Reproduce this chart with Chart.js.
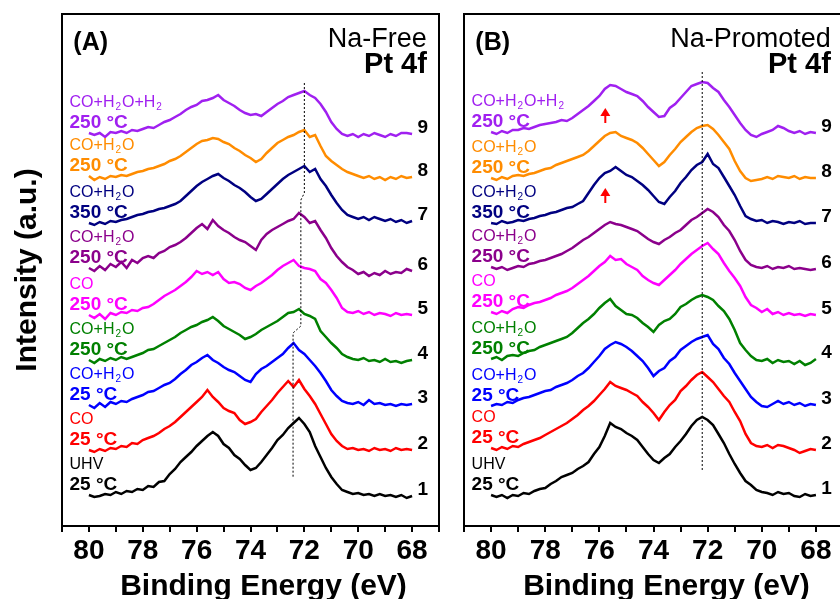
<!DOCTYPE html>
<html><head><meta charset="utf-8">
<script src="https://cdn.jsdelivr.net/npm/chart.js@4.4.0/dist/chart.umd.min.js"></script>
<style>
html,body{margin:0;padding:0;width:840px;height:599px;overflow:hidden;background:#fff;}
#wa{position:absolute;left:0;top:0;width:446px;height:599px;}
#wb{position:absolute;left:440px;top:0;width:410px;height:599px;}
</style></head><body>
<div id="wa"><canvas id="ca"></canvas></div>
<div id="wb"><canvas id="cb"></canvas></div>
<script>
// Binding energy grid (eV)
const energies = [80.0,79.8,79.6,79.4,79.2,79.0,78.8,78.6,78.4,78.2,78.0,77.8,77.6,77.4,77.2,77.0,76.8,76.6,76.4,76.2,76.0,75.8,75.6,75.4,75.2,75.0,74.8,74.6,74.4,74.2,74.0,73.8,73.6,73.4,73.2,73.0,72.8,72.6,72.4,72.2,72.0,71.8,71.6,71.4,71.2,71.0,70.8,70.6,70.4,70.2,70.0,69.8,69.6,69.4,69.2,69.0,68.8,68.6,68.4,68.2,68.0];

// Panel A: Na-Free, stacked intensities (a.u.)
const free1 = [31,29,30,32,31,34,32,35,34,37,36,40,39,44,45,52,57,64,69,74,80,85,90,94,90,82,78,71,67,61,56,58,64,71,78,86,91,98,103,108,102,94,80,69,58,49,42,36,34,32,33,31,32,30,32,30,31,29,31,28,30];
const free2 = [76,74,77,75,78,77,80,79,83,82,86,88,90,93,97,100,104,109,114,119,124,129,136,129,124,118,115,113,106,102,104,107,114,120,126,133,139,145,139,146,137,130,122,112,102,92,85,80,77,78,76,77,75,78,76,77,75,78,76,77,76];
const free3 = [121,118,123,119,124,122,125,124,127,129,131,134,135,138,141,143,147,152,156,161,164,168,171,166,163,159,156,154,150,146,144,152,157,160,164,168,172,178,183,176,172,166,160,153,145,136,130,125,123,122,124,121,126,122,123,121,122,120,122,121,122];
const free4 = [166,163,167,165,168,166,169,167,169,171,173,176,177,180,183,186,189,193,196,199,201,204,206,209,205,200,197,194,191,187,189,192,196,199,202,205,209,213,214,217,212,210,207,195,189,183,178,172,169,167,166,168,165,166,164,167,164,165,163,165,166];
const free5 = [211,208,212,207,213,211,214,213,216,215,218,219,222,226,230,233,236,240,244,249,255,252,254,251,254,247,243,244,242,238,236,240,243,247,251,256,260,263,266,260,258,257,255,247,243,236,228,218,214,213,215,212,214,211,213,212,210,213,211,212,211];
const free6 = [258,255,260,256,262,259,264,258,266,263,268,270,268,273,275,279,281,284,288,293,298,302,297,306,300,296,293,289,286,284,280,276,286,292,296,299,302,305,307,313,309,303,305,296,288,278,270,264,259,256,252,254,250,253,251,255,252,254,253,257,255];
const free7 = [303,301,304,302,305,304,306,307,309,311,312,314,315,317,318,320,322,325,330,335,340,344,347,350,352,348,345,341,338,334,329,325,327,332,337,342,347,351,354,357,360,354,357,347,340,331,323,316,311,309,307,309,306,309,307,305,307,304,306,303,305];
const free8 = [350,346,349,347,350,349,351,350,352,354,355,357,358,360,362,365,367,370,374,378,382,385,386,388,387,384,382,378,375,371,368,364,367,373,378,383,386,389,391,394,396,389,391,380,370,365,361,357,354,352,350,348,350,347,349,346,349,347,350,348,349];
const free9 = [393,391,393,389,394,393,395,393,396,395,397,399,398,401,404,406,409,412,416,419,421,425,426,428,431,426,423,420,416,413,411,412,410,414,418,422,425,429,431,433,435,431,428,422,414,404,397,392,390,392,389,392,390,393,391,389,392,390,393,393,392];

// Panel B: Na-Promoted
const prom1 = [31,29,31,28,31,30,33,32,35,37,38,42,45,49,51,53,57,60,64,72,79,90,103,99,97,93,90,86,79,72,66,63,68,72,79,85,92,100,106,109,106,101,92,83,72,62,53,45,41,36,34,33,31,34,32,33,30,29,32,30,31];
const prom2 = [78,76,79,77,80,79,82,84,86,88,91,94,97,100,103,107,111,116,120,125,131,137,144,140,138,136,133,130,124,119,113,106,114,121,126,135,140,146,151,154,149,144,137,130,124,114,105,92,83,80,79,81,78,81,80,78,76,73,75,77,76];
const prom3 = [120,122,121,124,123,126,128,129,131,133,135,136,139,141,143,146,150,153,158,164,170,177,181,184,182,179,175,170,165,158,150,155,158,165,169,176,180,184,187,189,191,182,177,168,162,153,145,137,129,124,120,119,122,125,122,124,121,123,120,122,121];
const prom4 = [167,169,166,170,171,170,173,175,176,179,181,183,185,187,189,193,198,203,207,212,218,223,227,220,216,212,211,208,203,199,194,201,205,207,212,219,222,226,229,231,229,226,220,215,207,196,183,176,170,166,165,167,163,166,164,165,162,165,161,163,167];
const prom5 = [214,212,215,213,217,219,218,221,223,224,226,228,231,233,235,238,242,246,250,255,260,264,270,266,267,262,259,256,250,246,243,241,246,251,256,262,267,272,276,280,283,277,272,263,255,248,240,229,221,218,214,217,212,214,211,213,211,212,210,212,211];
const prom6 = [259,257,259,256,258,260,259,262,263,265,266,268,270,272,275,278,282,286,289,293,297,301,304,302,301,299,297,295,291,287,284,282,286,289,293,296,301,306,309,313,317,314,309,301,295,286,275,266,261,259,258,260,257,259,258,260,257,258,257,256,257];
const prom7 = [303,302,305,303,304,306,305,307,308,310,311,313,314,316,318,319,322,325,333,341,348,353,355,359,355,351,349,345,341,336,330,324,322,329,335,343,349,356,361,364,372,362,358,349,340,331,320,310,307,305,306,303,305,304,302,304,303,305,302,303,303];
const prom8 = [348,346,349,347,350,351,350,352,353,355,357,358,361,363,365,367,369,371,375,380,385,390,393,394,390,388,386,383,378,372,366,360,364,371,377,384,389,394,398,400,401,397,391,384,377,365,355,348,345,346,347,349,347,350,349,348,350,347,349,348,348];
const prom9 = [394,392,395,393,396,396,398,397,399,401,402,403,404,406,405,408,412,416,420,425,430,437,441,440,437,434,432,430,425,419,414,409,410,418,422,428,434,440,442,444,443,438,434,426,419,411,403,396,391,389,392,394,396,400,398,395,393,395,392,394,393];

// Labels
const curveNumbers = ['1','2','3','4','5','6','7','8','9'];
const gasLabels = ['UHV','CO','CO+H_2O','CO+H_2O','CO','CO+H_2O','CO+H_2O','CO+H_2O','CO+H_2O+H_2'];
const tempLabels = ['25 °C','25 °C','25 °C','250 °C','250 °C','250 °C','350 °C','250 °C','250 °C'];
const curveColors = ['#000000','#ff0000','#0000ff','#008000','#ff00ff','#8b008b','#000080','#ff8c00','#a020f0'];
const xTickValues = [80,78,76,74,72,70,68];

// Guide lines (peak positions)
const guideAE = [72.0,72.0,72.13,72.13,72.42,72.42];
const guideAV = [443,333,326,200,193,48];
const guideBE = [72.2,72.2];
const guideBV = [454,54];
// Red arrows in panel B (energy, tail, tip)
const arrowE = [75.78,75.78];
const arrowTail = [403,323];
const arrowTip = [418,338];

const freeSeries = [free1,free2,free3,free4,free5,free6,free7,free8,free9];
const promSeries = [prom1,prom2,prom3,prom4,prom5,prom6,prom7,prom8,prom9];

Chart.defaults.font.family = '"Liberation Sans", Arial, sans-serif';
Chart.defaults.color = '#000';

function drawChem(ctx, text, x, y) {
  const parts = text.split(/(_\d)/);
  let cx = x;
  for (const p of parts) {
    if (!p) continue;
    if (p[0] === '_') {
      ctx.font = '10px "Liberation Sans"';
      ctx.fillText(p.slice(1), cx + 1, y + 3);
      cx += ctx.measureText(p.slice(1)).width + 2;
    } else {
      ctx.font = '16px "Liberation Sans"';
      ctx.fillText(p, cx, y);
      cx += ctx.measureText(p).width;
    }
  }
}

function makeChart(canvasId, series, panel) {
  const isA = panel.key === 'A';
  const datasets = [];
  const gE = isA ? guideAE : guideBE;
  const gV = isA ? guideAV : guideBV;
  datasets.push({
    data: gE.map((e, i) => ({x: e, y: gV[i]})),
    borderColor: '#000', borderWidth: 1, borderDash: [2, 2],
    pointRadius: 0, fill: false, tension: 0
  });
  series.forEach((s, k) => {
    datasets.push({
      data: energies.map((e, i) => ({x: e, y: s[i]})),
      borderColor: curveColors[k], borderWidth: 2.5,
      pointRadius: 0, fill: false, tension: 0
    });
  });

  const deco = {
    id: 'deco' + panel.key,
    afterDraw(chart) {
      const {ctx, chartArea: a, scales: {x, y}} = chart;
      ctx.save();
      ctx.strokeStyle = '#000';
      ctx.lineWidth = 2;
      ctx.strokeRect(a.left, a.top, a.right - a.left, a.bottom - a.top);

      // headers
      ctx.fillStyle = '#000';
      ctx.textBaseline = 'alphabetic';
      ctx.textAlign = 'left';
      ctx.font = 'bold 25px "Liberation Sans"';
      ctx.fillText(panel.tag, x.getPixelForValue(80.58), a.top + 36);
      ctx.textAlign = 'right';
      ctx.font = '27px "Liberation Sans"';
      ctx.fillText(panel.title, x.getPixelForValue(67.45), a.top + 33);
      ctx.font = 'bold 29px "Liberation Sans"';
      ctx.fillText('Pt 4f', x.getPixelForValue(67.45), a.top + 59);

      // curve labels
      series.forEach((s, k) => {
        ctx.fillStyle = curveColors[k];
        ctx.textAlign = 'left';
        ctx.textBaseline = 'alphabetic';
        const lx = x.getPixelForValue(80.72);
        const ly = y.getPixelForValue(s[0]) - 5;
        ctx.font = 'bold 19px "Liberation Sans"';
        ctx.fillText(tempLabels[k], lx, ly);
        drawChem(ctx, gasLabels[k], lx, ly - 21);
        ctx.fillStyle = '#000';
        ctx.font = 'bold 19px "Liberation Sans"';
        ctx.textBaseline = 'middle';
        ctx.fillText(curveNumbers[k], x.getPixelForValue(67.8), y.getPixelForValue(s[s.length - 1]) - 6);
      });

      if (!isA) {
        ctx.fillStyle = '#ff0000';
        ctx.strokeStyle = '#ff0000';
        arrowE.forEach((e, i) => {
          const px = x.getPixelForValue(e);
          const tail = y.getPixelForValue(arrowTail[i]);
          const tip = y.getPixelForValue(arrowTip[i]);
          ctx.lineWidth = 2;
          ctx.beginPath(); ctx.moveTo(px, tail); ctx.lineTo(px, tip + 7); ctx.stroke();
          ctx.beginPath(); ctx.moveTo(px, tip); ctx.lineTo(px - 5, tip + 8); ctx.lineTo(px + 5, tip + 8); ctx.closePath(); ctx.fill();
        });
      }

      ctx.fillStyle = '#000';
      ctx.textAlign = 'center';
      ctx.textBaseline = 'alphabetic';
      ctx.font = 'bold 30px "Liberation Sans"';
      const cx = (x.getPixelForValue(80) + x.getPixelForValue(68)) / 2 + 13;
      ctx.fillText('Binding Energy (eV)', cx, 595);
      ctx.restore();
    }
  };

  const yScale = {
    type: 'linear', min: 0, max: 512,
    display: isA,
    border: {display: false},
    grid: {display: false},
    ticks: {display: false},
    title: {display: isA, text: 'Intensity (a.u.)', color: '#000',
            font: {size: 30, weight: 'bold'}, padding: {top: 10, bottom: 0}}
  };
  if (isA) yScale.afterFit = function (s) { s.width = 62; };

  return new Chart(document.getElementById(canvasId), {
    type: 'line',
    data: {datasets},
    plugins: [deco],
    options: {
      responsive: true, maintainAspectRatio: false, animation: false,
      devicePixelRatio: 1,
      layout: {padding: panel.padding},
      plugins: {legend: {display: false}, tooltip: {enabled: false}},
      scales: {
        x: {
          type: 'linear', reverse: true, min: 67, max: 81,
          afterFit(s) { s.height = 73; },
          border: {display: false},
          grid: {display: true, drawOnChartArea: false, drawTicks: true, tickLength: 6, color: '#000', lineWidth: 2},
          ticks: {
            stepSize: 1, autoSkip: false, maxRotation: 0, padding: 2,
            color: '#000', font: {size: 28, weight: 'bold'},
            callback: (v) => xTickValues.includes(v) ? String(v) : ''
          }
        },
        y: yScale
      }
    }
  });
}

makeChart('ca', freeSeries, {key: 'A', tag: '(A)', title: 'Na-Free', padding: {left: 0, right: 7, top: 14, bottom: 0}});
makeChart('cb', promSeries, {key: 'B', tag: '(B)', title: 'Na-Promoted', padding: {left: 24, right: 7, top: 14, bottom: 0}});
</script>
</body></html>
